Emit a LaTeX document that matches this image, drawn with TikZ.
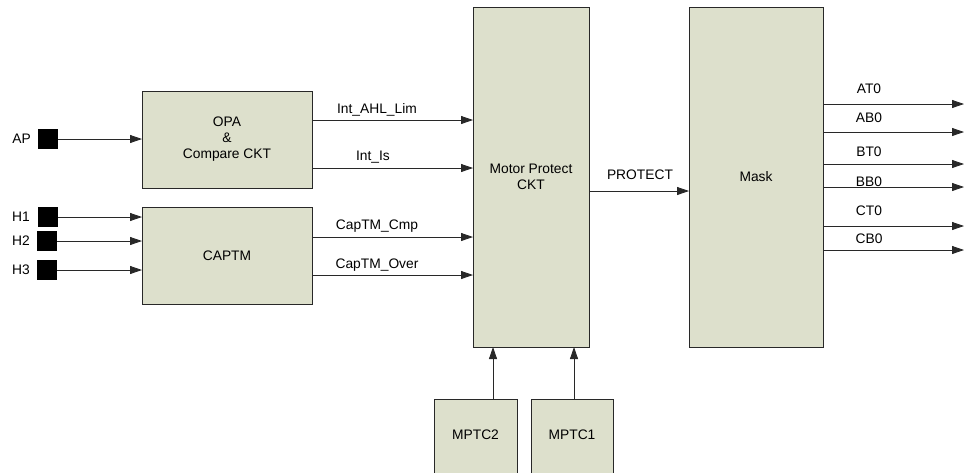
\documentclass[tikz,border=0pt]{standalone}
\usepackage{fontspec}
\setmainfont{Liberation Sans}
\usetikzlibrary{arrows.meta}
\definecolor{boxfill}{RGB}{221,224,204}
\definecolor{edge}{RGB}{40,40,40}
\tikzset{
  blk/.style={draw=edge, line width=0.9pt, fill=boxfill, inner sep=0pt, minimum width=#1},
  pin/.style={fill=black, minimum size=20pt, inner sep=0pt},
  sig/.style={draw=edge, line width=0.8pt, -{Triangle[length=12pt,width=8pt]}},
  lbl/.style={font=\fontsize{13.8}{16}\selectfont, inner sep=0pt},
  txt/.style={font=\fontsize{13.8}{16}\selectfont, align=center}
}
\begin{document}
\begin{tikzpicture}[x=1pt,y=-1pt]
\useasboundingbox (0,0) rectangle (964,472);
\begin{scope}
\clip (0,0) rectangle (964,472);
% blocks
\draw[blk] (142,91) rectangle (312,188);
\node[txt] (opa) at (227,139.5) {OPA\\\&\\Compare CKT};
\draw[blk] (142,207) rectangle (312,304);
\node[txt] (captm) at (227,256) {CAPTM};
\draw[blk] (473,7) rectangle (589,347);
\node[txt] (mp) at (531,177) {Motor Protect\\CKT};
\draw[blk] (689,7) rectangle (823,347);
\node[txt] (mask) at (756,177) {Mask};
\draw[blk] (434,399) rectangle (517,480);
\node[txt] (m2) at (475.5,435) {MPTC2};
\draw[blk] (531,399) rectangle (613,480);
\node[txt] (m1) at (572,435) {MPTC1};
\end{scope}
% coordinates for block edges
\coordinate (opaR1) at (312,120); \coordinate (mpL1) at (473,120);
\coordinate (opaR2) at (312,168); \coordinate (mpL2) at (473,168);
\coordinate (capR1) at (312,237); \coordinate (mpL3) at (473,237);
\coordinate (capR2) at (312,275); \coordinate (mpL4) at (473,275);
\coordinate (opaL) at (142,139);
\coordinate (capL1) at (142,217);
\coordinate (capL2) at (142,241);
\coordinate (capL3) at (142,270);
\coordinate (mpR) at (589,191); \coordinate (maskL) at (689,191);
\coordinate (m2T) at (493,399); \coordinate (mpB2) at (493,347);
\coordinate (m1T) at (574,399); \coordinate (mpB1) at (574,347);
% pins
\node[pin] (ap) at (48,139) {};
\node[pin] (h1) at (48,217) {};
\node[pin] (h2) at (47,241) {};
\node[pin] (h3) at (47,270) {};
\node[lbl, anchor=east] (apl) at (31,139) {AP};
\node[lbl, anchor=east] (h1l) at (30,217) {H1};
\node[lbl, anchor=east] (h2l) at (30,241) {H2};
\node[lbl, anchor=east] (h3l) at (30,270) {H3};
\draw[sig] (ap.east) -- (opaL);
\draw[sig] (h1.east) -- (capL1);
\draw[sig] (h2.east) -- (capL2);
\draw[sig] (h3.east) -- (capL3);
% internal signals
\draw[sig] (opaR1) -- (mpL1);
\draw[sig] (opaR2) -- (mpL2);
\draw[sig] (capR1) -- (mpL3);
\draw[sig] (capR2) -- (mpL4);
\node[lbl] (s1) at (377,110) {Int\_AHL\_Lim};
\node[lbl] (s2) at (373,157) {Int\_Is};
\node[lbl] (s3) at (377,226) {CapTM\_Cmp};
\node[lbl] (s4) at (377,265) {CapTM\_Over};
\draw[sig] (mpR) -- (maskL);
\node[lbl] (pr) at (640,175) {PROTECT};
\draw[sig] (m2T) -- (mpB2);
\draw[sig] (m1T) -- (mpB1);
% outputs
\foreach \y/\t/\ly in {104/AT0/89, 132/AB0/118, 164/BT0/152, 187/BB0/182, 226/CT0/211, 250/CB0/239}{
  \coordinate (o\t a) at (823,\y);
  \coordinate (o\t b) at (964,\y);
  \draw[sig] (o\t a) -- (o\t b);
  \node[lbl] (l\t) at (869,\ly) {\t};
}
\end{tikzpicture}
\end{document}
